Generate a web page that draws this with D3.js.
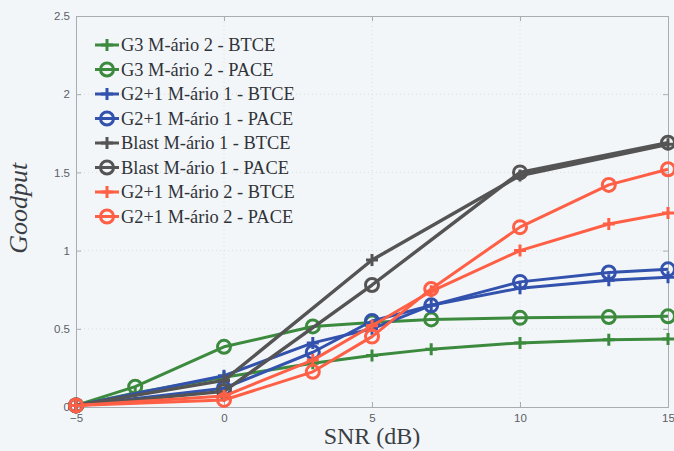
<!DOCTYPE html>
<html>
<head>
<meta charset="utf-8">
<script src="https://cdn.jsdelivr.net/npm/d3@7"></script>
<style>
  body { margin: 0; background: #f3f6f9; }
  svg { display: block; }
</style>
</head>
<body>
<div id="chart"></div>
<script>
// Data
const seriesNames = [
  "G3 M-ário 2 - BTCE", "G3 M-ário 2 - PACE",
  "G2+1 M-ário 1 - BTCE", "G2+1 M-ário 1 - PACE",
  "Blast M-ário 1 - BTCE", "Blast M-ário 1 - PACE",
  "G2+1 M-ário 2 - BTCE", "G2+1 M-ário 2 - PACE"
];
const g3Snr = [-5, -3, 0, 3, 5, 7, 10, 13, 15];
const g3Btce = [0.01, 0.09, 0.19, 0.28, 0.33, 0.37, 0.41, 0.43, 0.435];
const g3Pace = [0.01, 0.13, 0.385, 0.515, 0.54, 0.56, 0.57, 0.575, 0.58];
const g21Snr = [-5, 0, 3, 5, 7, 10, 13, 15];
const g21m1Btce = [0.01, 0.2, 0.41, 0.5, 0.65, 0.76, 0.81, 0.83];
const g21m1Pace = [0.01, 0.12, 0.35, 0.55, 0.65, 0.8, 0.86, 0.88];
const blastSnr = [-5, 0, 5, 10, 15];
const blastBtce = [0.01, 0.17, 0.94, 1.48, 1.68];
const blastPace = [0.01, 0.1, 0.78, 1.5, 1.69];
const g21m2Btce = [0.01, 0.07, 0.3, 0.52, 0.74, 1.0, 1.17, 1.24];
const g21m2Pace = [0.01, 0.045, 0.225, 0.45, 0.755, 1.15, 1.42, 1.52];
const xTicks = [-5, 0, 5, 10, 15];
const yTicks = [0, 0.5, 1, 1.5, 2, 2.5];

const seriesX = [g3Snr, g3Snr, g21Snr, g21Snr, blastSnr, blastSnr, g21Snr, g21Snr];
const seriesY = [g3Btce, g3Pace, g21m1Btce, g21m1Pace, blastBtce, blastPace, g21m2Btce, g21m2Pace];
const colors = ["#3c8a3e", "#3c8a3e", "#3252ad", "#3252ad", "#545454", "#545454", "#ff5f45", "#ff5f45"];
const markers = ["plus", "circle", "plus", "circle", "plus", "circle", "plus", "circle"];

const W = 674, H = 451;
const margin = { top: 16, right: 6, bottom: 44, left: 76 };

const svg = d3.select("#chart").append("svg")
  .attr("width", W).attr("height", H);

const x = d3.scaleLinear().domain([-5, 15]).range([margin.left, W - margin.right]);
const y = d3.scaleLinear().domain([0, 2.5]).range([H - margin.bottom, margin.top]);

// dotted grid
svg.append("g").selectAll("line.gx").data(xTicks.slice(1, -1)).enter().append("line")
  .attr("x1", d => x(d)).attr("x2", d => x(d))
  .attr("y1", y(0)).attr("y2", y(2.5))
  .attr("stroke", "#d4d8dc").attr("stroke-width", 0.8).attr("stroke-dasharray", "1,3");
svg.append("g").selectAll("line.gy").data(yTicks.slice(1, -1)).enter().append("line")
  .attr("x1", x(-5)).attr("x2", x(15))
  .attr("y1", d => y(d)).attr("y2", d => y(d))
  .attr("stroke", "#d4d8dc").attr("stroke-width", 0.8).attr("stroke-dasharray", "1,3");

// axes (ticks pointing inward, box around plot)
const fmt = d => d === 0 ? "0" : String(d).replace("-", "\u2212");
svg.append("g").attr("transform", "translate(0," + y(0) + ")")
  .call(d3.axisBottom(x).tickValues(xTicks).tickSize(-5).tickPadding(7).tickFormat(fmt));
svg.append("g").attr("transform", "translate(0," + y(2.5) + ")")
  .call(d3.axisTop(x).tickValues(xTicks).tickSize(-5).tickFormat(""));
svg.append("g").attr("transform", "translate(" + x(-5) + ",0)")
  .call(d3.axisLeft(y).tickValues(yTicks).tickSize(-5).tickPadding(6).tickFormat(d => d));
svg.append("g").attr("transform", "translate(" + x(15) + ",0)")
  .call(d3.axisRight(y).tickValues(yTicks).tickSize(-5).tickFormat(""));
svg.selectAll(".domain").attr("stroke", "#a8adb2");
svg.selectAll(".tick line").attr("stroke", "#a8adb2");
svg.selectAll(".tick text")
  .attr("fill", "#5a5f66")
  .style("font-family", "Liberation Sans, Arial, sans-serif")
  .style("font-size", "11.5px");

// lines
const line = d3.line().x(d => x(d[0])).y(d => y(d[1]));
seriesNames.forEach((name, i) => {
  const pts = seriesX[i].map((v, j) => [v, seriesY[i][j]]);
  const g = svg.append("g");
  g.append("path").datum(pts)
    .attr("d", line)
    .attr("fill", "none")
    .attr("stroke", colors[i])
    .attr("stroke-width", i >= 4 && i <= 5 ? 3.4 : 3)
    .attr("stroke-linejoin", "round");
  drawMarkers(g, pts.map(p => [x(p[0]), y(p[1])]), markers[i], colors[i]);
});

function drawMarkers(g, pts, type, color) {
  if (type === "circle") {
    g.selectAll("circle").data(pts).enter().append("circle")
      .attr("cx", d => d[0]).attr("cy", d => d[1]).attr("r", 6.5)
      .attr("fill", "none").attr("stroke", color).attr("stroke-width", 3);
  } else {
    g.selectAll("path.m").data(pts).enter().append("path")
      .attr("class", "m")
      .attr("d", d => `M${d[0] - 6},${d[1]}H${d[0] + 6}M${d[0]},${d[1] - 6}V${d[1] + 6}`)
      .attr("stroke", color).attr("stroke-width", 3);
  }
}

// legend
const legend = svg.append("g");
seriesNames.forEach((name, i) => {
  const ly = 45 + i * 24.5;
  const lg = legend.append("g");
  lg.append("line").attr("x1", 95).attr("x2", 119).attr("y1", ly).attr("y2", ly)
    .attr("stroke", colors[i]).attr("stroke-width", 3);
  drawMarkers(lg, [[107, ly]], markers[i], colors[i]);
  lg.append("text").attr("x", 121).attr("y", ly + 6)
    .attr("fill", "#2f3338")
    .style("font-family", "Liberation Serif, Times New Roman, serif")
    .style("font-size", "18.4px")
    .text(name);
});

// axis labels
svg.append("text")
  .attr("x", x(5)).attr("y", H - 7)
  .attr("text-anchor", "middle")
  .attr("fill", "#3a3e44")
  .style("font-family", "Liberation Serif, Times New Roman, serif")
  .style("font-size", "24px")
  .text("SNR (dB)");
svg.append("text")
  .attr("transform", "translate(27," + y(1.27) + ") rotate(-90)")
  .attr("text-anchor", "middle")
  .attr("fill", "#3a3e44")
  .style("font-family", "Liberation Serif, Times New Roman, serif")
  .style("font-style", "italic")
  .style("font-size", "26px")
  .text("Goodput");
</script>
</body>
</html>
